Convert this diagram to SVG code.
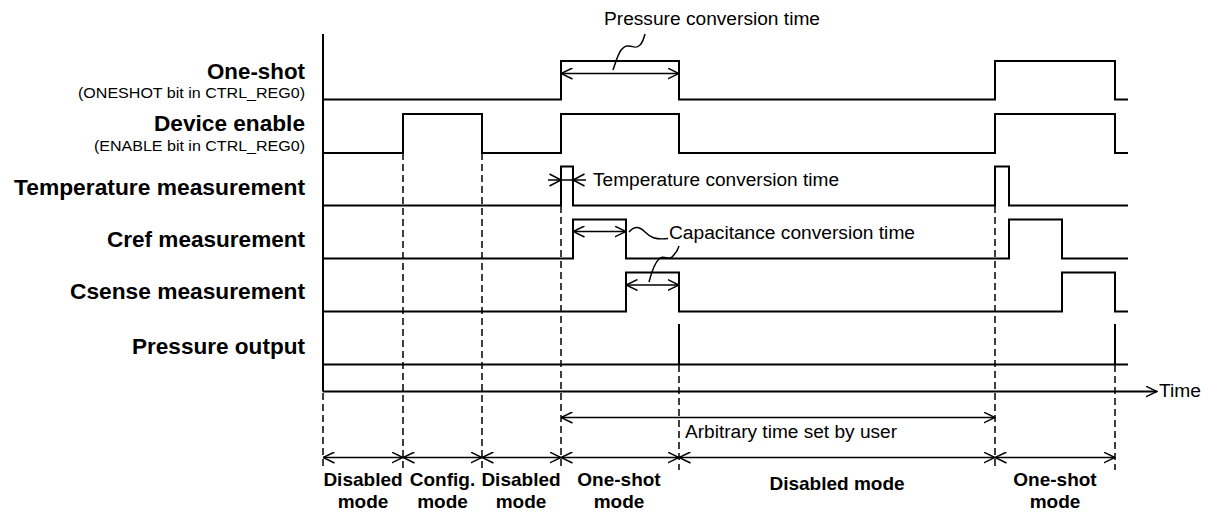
<svg xmlns="http://www.w3.org/2000/svg" width="1210" height="513" viewBox="0 0 1210 513">
<style>
.sig{fill:none;stroke:#000;stroke-width:2}
.dash{fill:none;stroke:#000;stroke-width:1.5;stroke-dasharray:7,4}
.arr{fill:none;stroke:#000;stroke-width:1.5;marker-start:url(#ah);marker-end:url(#ah)}
.arrE{fill:none;stroke:#000;stroke-width:1.5;marker-end:url(#ah)}
.lead{fill:none;stroke:#000;stroke-width:1.5}
.lbl{font-family:"Liberation Sans",Arial,sans-serif;font-weight:bold;font-size:22px;text-anchor:end}
.sub{font-family:"Liberation Sans",Arial,sans-serif;font-size:15px;text-anchor:end}
.note{font-family:"Liberation Sans",Arial,sans-serif;font-size:18px}
.mode{font-family:"Liberation Sans",Arial,sans-serif;font-weight:bold;font-size:19px;text-anchor:middle}
</style>
<defs>
<marker id="ah" viewBox="0 0 12 12" refX="11.5" refY="6" markerWidth="12" markerHeight="12" markerUnits="userSpaceOnUse" orient="auto-start-reverse">
<path d="M0,0.5 L11.5,6 L0,11.5" fill="none" stroke="#000" stroke-width="1.5"/>
</marker>
</defs>
<rect width="1210" height="513" fill="#fff"/>

<g id="labels">
<text class="lbl" x="305" y="79" textLength="98" lengthAdjust="spacingAndGlyphs">One-shot</text>
<text class="sub" x="305" y="98" textLength="227" lengthAdjust="spacingAndGlyphs">(ONESHOT bit in CTRL_REG0)</text>
<text class="lbl" x="305" y="131" textLength="151" lengthAdjust="spacingAndGlyphs">Device enable</text>
<text class="sub" x="305" y="151" textLength="211" lengthAdjust="spacingAndGlyphs">(ENABLE bit in CTRL_REG0)</text>
<text class="lbl" x="305" y="195" textLength="291" lengthAdjust="spacingAndGlyphs">Temperature measurement</text>
<text class="lbl" x="305" y="247" textLength="198" lengthAdjust="spacingAndGlyphs">Cref measurement</text>
<text class="lbl" x="305" y="299" textLength="235" lengthAdjust="spacingAndGlyphs">Csense measurement</text>
<text class="lbl" x="305" y="354" textLength="173" lengthAdjust="spacingAndGlyphs">Pressure output</text>
</g>

<g id="axis">
<path class="sig" d="M323,34 V391.5"/>
<path class="arrE" style="stroke-width:2" d="M323,391.5 H1157"/>
<text class="note" x="1159" y="397" textLength="42" lengthAdjust="spacingAndGlyphs">Time</text>
</g>

<g id="sig-oneshot"><path class="sig" d="M323,99.5 H561 V61 H679 V99.5 H995 V61 H1115 V99.5 H1128"/></g>
<g id="sig-enable"><path class="sig" d="M323,153 H403 V114 H482 V153 H561 V114 H679 V153 H995 V114 H1115 V153 H1128"/></g>
<g id="sig-temp"><path class="sig" d="M323,205.5 H561 V166.5 H573 V205.5 H995 V166.5 H1009 V205.5 H1128"/></g>
<g id="sig-cref"><path class="sig" d="M323,258.5 H573 V219.5 H626 V258.5 H1009 V219.5 H1062 V258.5 H1128"/></g>
<g id="sig-csense"><path class="sig" d="M323,311.5 H626 V272.5 H679 V311.5 H1062 V272.5 H1115 V311.5 H1128"/></g>
<g id="sig-pressure"><path class="sig" d="M323,364.5 H1128 M679,324 V364.5 M1115,324 V364.5"/></g>

<g id="gridlines">
<path class="dash" d="M323,393 V470 M403,153 V470 M482,153 V470 M561,206 V470 M679,365 V470 M995,206 V470 M1115,365 V470"/>
</g>

<g id="connectors">
<path class="arr" d="M561,73.5 H679"/>
<path class="lead" d="M613,70 C617,58 620,47 627,46 C633,45 635,50 640,45 C643,42 644,38 645,34"/>
<text class="note" x="604" y="25" textLength="216" lengthAdjust="spacingAndGlyphs">Pressure conversion time</text>

<path class="lead" d="M548,180 H586"/>
<path class="lead" d="M549.5,174 L561,180 L549.5,186 M584.5,174 L573,180 L584.5,186"/>
<text class="note" x="593" y="186" textLength="246" lengthAdjust="spacingAndGlyphs">Temperature conversion time</text>

<path class="arr" d="M573,231.5 H626"/>
<path class="arr" d="M626,285 H679"/>
<path class="lead" d="M629,232 C635,225 640,227 645,232 C650,237 655,240 668,238.5"/>
<path class="lead" d="M649,282 C652,270 655,262 660,258 C665,255 668,261 672,257 C676,253 678,250 679,246"/>
<text class="note" x="669" y="238.5" textLength="246" lengthAdjust="spacingAndGlyphs">Capacitance conversion time</text>

<path class="arr" d="M561,417.5 H995"/>
<text class="note" x="685" y="438" textLength="212" lengthAdjust="spacingAndGlyphs">Arbitrary time set by user</text>

<path class="arr" d="M323,457.5 H403"/>
<path class="arr" d="M403,457.5 H482"/>
<path class="arr" d="M482,457.5 H561"/>
<path class="arr" d="M561,457.5 H679"/>
<path class="arr" d="M679,457.5 H995"/>
<path class="arr" d="M995,457.5 H1115"/>
</g>

<g id="modes">
<text class="mode" x="363" y="486">Disabled</text>
<text class="mode" x="363" y="508">mode</text>
<text class="mode" x="442.5" y="486">Config.</text>
<text class="mode" x="442.5" y="508">mode</text>
<text class="mode" x="521" y="486">Disabled</text>
<text class="mode" x="521" y="508">mode</text>
<text class="mode" x="619" y="486">One-shot</text>
<text class="mode" x="619" y="508">mode</text>
<text class="mode" x="837" y="490">Disabled mode</text>
<text class="mode" x="1055" y="486">One-shot</text>
<text class="mode" x="1055" y="508">mode</text>
</g>
</svg>
